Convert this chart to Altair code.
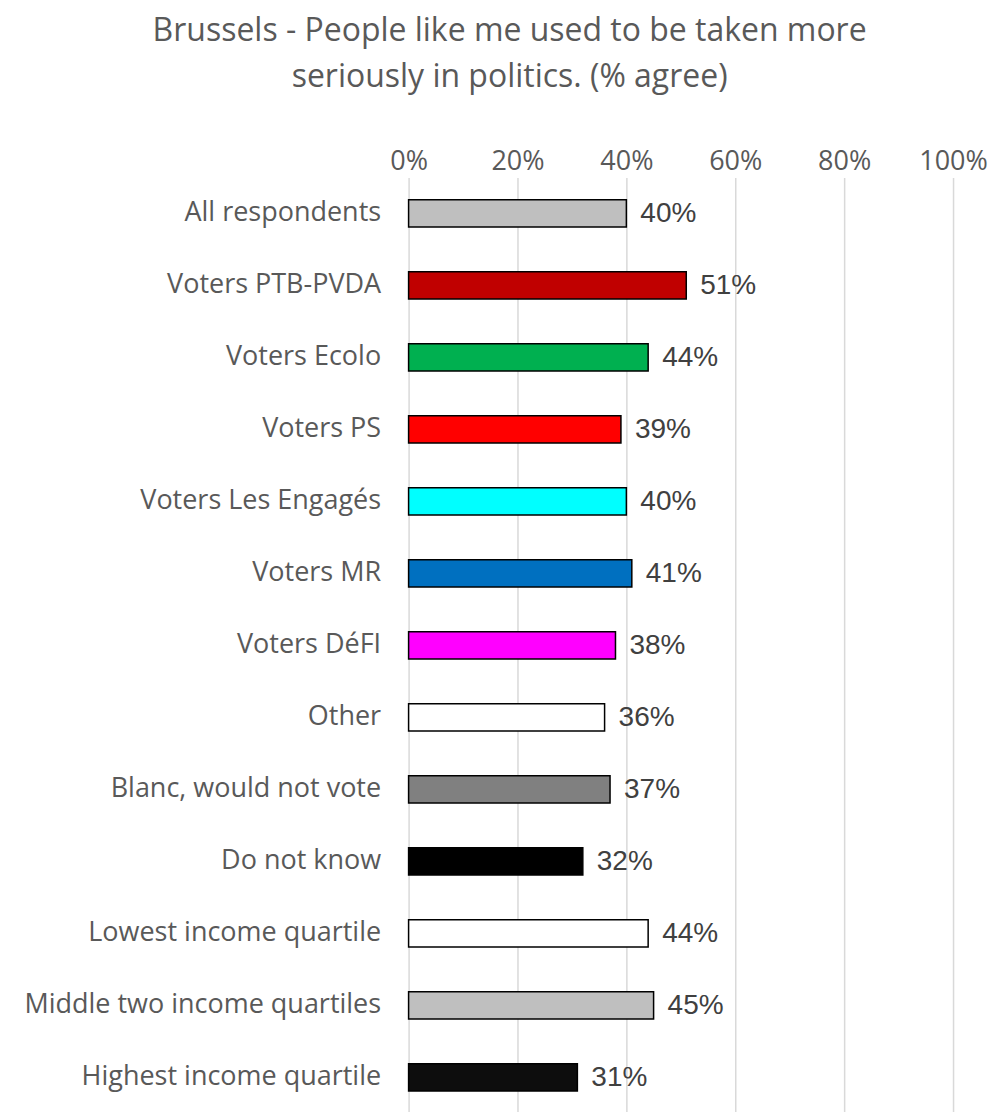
import altair as alt
import pandas as pd

categories = ["All respondents", "Voters PTB-PVDA", "Voters Ecolo", "Voters PS",
              "Voters Les Engagés", "Voters MR", "Voters DéFI", "Other",
              "Blanc, would not vote", "Do not know", "Lowest income quartile",
              "Middle two income quartiles", "Highest income quartile"]
values = [40, 51, 44, 39, 40, 41, 38, 36, 37, 32, 44, 45, 31]
colors = ["#BFBFBF", "#C00000", "#00B050", "#FF0000", "#00FFFF", "#0070C0",
          "#FF00FF", "#FFFFFF", "#808080", "#000000", "#FFFFFF", "#BFBFBF", "#0D0D0D"]

df = pd.DataFrame({"cat": categories, "val": [v / 100 for v in values],
                   "lab": [f"{v}%" for v in values], "col": colors})

FONT = "Open Sans"
AX = "#595959"
TXT = "#404040"

y = alt.Y("cat:N", sort=categories, title=None,
          scale=alt.Scale(paddingInner=0.62, paddingOuter=0.31),
          axis=alt.Axis(labelFontSize=27, labelColor=AX, labelFont=FONT,
                        labelPadding=28, ticks=False, domain=False, grid=False,
                        labelLimit=500))
x = alt.X("val:Q", title=None,
          scale=alt.Scale(domain=[0, 1]),
          axis=alt.Axis(orient="top", format=".0%", values=[0, 0.2, 0.4, 0.6, 0.8, 1.0],
                        labelFontSize=27, labelColor=AX, labelFont=FONT,
                        labelPadding=2, labelFlush=False, ticks=False, domain=False,
                        gridColor="#D9D9D9", gridWidth=1.5))

bars = alt.Chart(df).mark_bar(stroke="black", strokeWidth=1.5).encode(
    x=x, y=y, color=alt.Color("col:N", scale=None))

labels = alt.Chart(df).mark_text(align="left", dx=14, dy=1, fontSize=28,
                                 font="Liberation Sans", color=TXT).encode(
    x="val:Q", y=alt.Y("cat:N", sort=categories), text="lab:N")

chart = (bars + labels).properties(
    width=545, height=937,
    padding={"left": 15, "top": 6, "right": 5, "bottom": 0},
    title=alt.Title(["Brussels - People like me used to be taken more",
                     "seriously in politics. (% agree)"],
                    fontSize=32, font=FONT, color=AX, fontWeight="normal",
                    anchor="middle", frame="bounds", lineHeight=47, offset=53, dx=4),
).configure_view(stroke=None)

chart.save("out.html", embed_options={"renderer": "svg", "actions": False})
